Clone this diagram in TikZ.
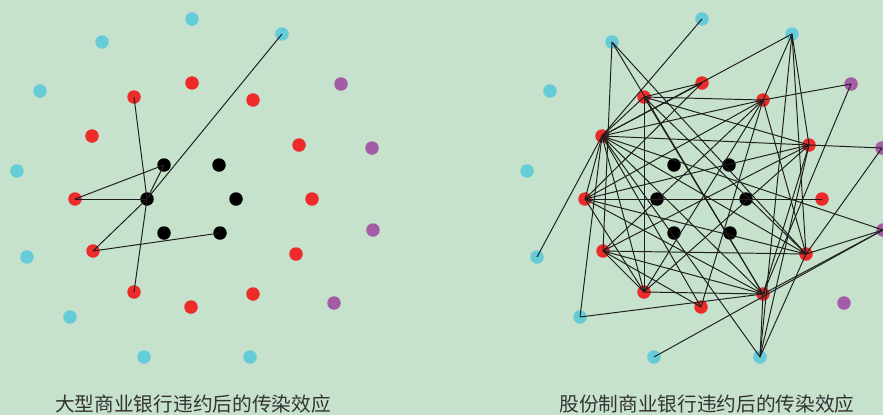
\documentclass[tikz,border=0pt]{standalone}
\usepackage{fontspec}
\newfontfamily\cjk{Noto Sans CJK SC}

% node positions of one panel, in cm; the right panel is the same, shifted
\newcommand{\cyanlist}{1/3.84/7.92, 2/2.04/7.46, 3/5.64/7.62, 4/0.80/6.48,
    5/0.34/4.88, 6/0.54/3.16, 7/1.40/1.96, 8/2.88/1.16, 9/5.00/1.16}
\newcommand{\purplelist}{1/6.82/6.62, 2/7.44/5.34, 3/7.46/3.70, 4/6.68/2.24}
\newcommand{\redlist}{1/2.68/6.36, 2/3.84/6.64, 3/5.06/6.30, 4/1.84/5.58,
    5/5.98/5.40, 6/1.50/4.32, 7/6.24/4.32, 8/1.86/3.28, 9/5.92/3.22,
    10/2.68/2.46, 11/3.82/2.16, 12/5.06/2.42}
\newcommand{\blacklist}{1/3.28/5.00, 2/4.38/5.00, 3/2.94/4.32, 4/4.72/4.32,
    5/3.28/3.64, 6/4.40/3.64}

\begin{document}
\begin{tikzpicture}[
    every node/.style={font=\cjk},
]

% ---------------------------------------------------------------- colours
\definecolor{bgcolor}{HTML}{C6E2CD}    % the sheet
\definecolor{cyanbank}{HTML}{66CCD8}   % outer ring
\definecolor{redbank}{HTML}{EE2B2B}    % middle ring
\definecolor{purplebank}{HTML}{A55CA6}
\definecolor{linkcolor}{HTML}{1E1E1E}
\definecolor{labelcolor}{HTML}{333333}

% ---------------------------------------------------------------- styles
\tikzset{
    bank/.style={
        circle, inner sep=0pt, minimum size=0.27cm, draw=none,
    },
    outer/.style={bank, fill=cyanbank},
    middle/.style={bank, fill=redbank},
    side/.style={bank, fill=purplebank},
    core/.style={bank, fill=black},
    link/.style={
        line width=0.55pt, linkcolor,
    },
    caption/.style={
        anchor=base, text=labelcolor, font=\cjk\fontsize{11.2}{13}\selectfont,
    },
}

% ================================================================
% GEOMETRY
%   sheet          x in [0, 17.66],  y in [0, 8.30]
%   left panel     x in [0.3, 7.5]
%   right panel    the same, shifted by 10.2
%   captions       baseline y = 0.07
% ================================================================

\useasboundingbox (0, 0) rectangle (17.66, 8.30);
\fill[bgcolor] (0, 0) rectangle (17.66, 8.30);

% ---------------------------------------------------------------- banks
\foreach \p/\dx in {l/0, r/10.2} {
    \foreach \n/\x/\y in \cyanlist {
        \node[outer] (\p c\n) at (\x + \dx, \y) {};
    }
    \foreach \n/\x/\y in \purplelist {
        \node[side] (\p p\n) at (\x + \dx, \y) {};
    }
    \foreach \n/\x/\y in \redlist {
        \node[middle] (\p r\n) at (\x + \dx, \y) {};
    }
    \foreach \n/\x/\y in \blacklist {
        \node[core] (\p b\n) at (\x + \dx, \y) {};
    }
}

% ---------------------------------------------------------------- left: large bank fails
\foreach \i/\j in {lb3/lc3, lb3/lr1, lb3/lr6, lb3/lb1, lr6/lb1,
                   lb3/lr8, lr8/lb6, lb3/lr10} {
    \draw[link] (\i.center) -- (\j.center);
}

% ---------------------------------------------------------------- right: joint-stock bank fails
% outer banks
\foreach \i/\j in {rc1/rr4, rc2/rr8, rc2/rr9, rc2/rr12, rc3/rr4, rc3/rr3,
                   rc3/rc9, rc3/rr9, rc3/rr5, rc6/rr4, rc7/rr4, rc7/rr12,
                   rc8/rp3, rc9/rr4, rc9/rr5, rc9/rr9, rc9/rr12,
                   rp1/rr3, rp1/rr12, rp2/rr5, rp2/rr9,
                   rp3/rr4, rp3/rr9, rp3/rr12} {
    \draw[link] (\i.center) -- (\j.center);
}
% middle ring
\foreach \i/\j in {rr1/rr2, rr1/rr3, rr1/rr4, rr1/rr10, rr1/rr9, rr1/rr12,
                   rr1/rr5, rr2/rr4, rr2/rr6,
                   rr3/rr4, rr3/rr6, rr3/rr8, rr3/rr10, rr3/rr11, rr3/rr9,
                   rr4/rr5, rr4/rr6, rr4/rr9, rr4/rr10, rr4/rr11, rr4/rr12,
                   rr5/rr6, rr5/rr8, rr5/rr10, rr5/rr12,
                   rr6/rr7, rr6/rr9, rr6/rr12, rr6/rr10,
                   rr8/rr9, rr8/rr10, rr8/rr12, rr8/rr11, rr10/rr12} {
    \draw[link] (\i.center) -- (\j.center);
}

% ---------------------------------------------------------------- captions
\node[caption] (ltitle) at (3.86, 0.07) {大型商业银行违约后的传染效应};
\node[caption] (rtitle) at (14.14, 0.07) {股份制商业银行违约后的传染效应};

\end{tikzpicture}
\end{document}
